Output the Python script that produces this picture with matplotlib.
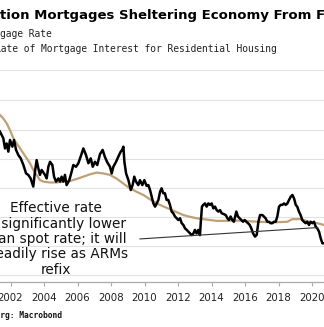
import matplotlib.pyplot as plt

# 30-year mortgage rate (black) and effective rate (tan), % by year
spot_years = [2001.37, 2001.57, 2001.67, 2001.77, 2001.87, 2001.97, 2002.11, 2002.21, 2002.33, 2002.47,
              2002.61, 2002.77, 2002.93, 2003.06, 2003.20, 2003.36, 2003.46, 2003.56, 2003.66, 2003.76,
              2003.86, 2004.06, 2004.16, 2004.26, 2004.36, 2004.50, 2004.60, 2004.72, 2004.86, 2004.96,
              2005.05, 2005.15, 2005.25, 2005.35, 2005.51, 2005.65, 2005.75, 2005.91, 2006.05, 2006.19,
              2006.35, 2006.51, 2006.65, 2006.79, 2006.91, 2007.04, 2007.18, 2007.34, 2007.50, 2007.64,
              2007.78, 2007.94, 2008.04, 2008.14, 2008.30, 2008.44, 2008.58, 2008.66, 2008.74, 2008.80,
              2008.90, 2009.04, 2009.18, 2009.29, 2009.39, 2009.49, 2009.63, 2009.73, 2009.87, 2009.99,
              2010.13, 2010.23, 2010.33, 2010.43, 2010.53, 2010.63, 2010.73, 2010.83, 2010.93, 2011.02,
              2011.12, 2011.22, 2011.32, 2011.42, 2011.52, 2011.62, 2011.72, 2011.82, 2011.92, 2012.02,
              2012.12, 2012.22, 2012.32, 2012.42, 2012.52, 2012.62, 2012.72, 2012.82, 2012.92, 2013.01,
              2013.11, 2013.21, 2013.31, 2013.37, 2013.43, 2013.51, 2013.61, 2013.71, 2013.81, 2013.91,
              2014.01, 2014.11, 2014.21, 2014.31, 2014.41, 2014.51, 2014.61, 2014.71, 2014.85, 2014.95,
              2015.04, 2015.14, 2015.24, 2015.34, 2015.48, 2015.58, 2015.68, 2015.78, 2015.88, 2015.98,
              2016.08, 2016.18, 2016.28, 2016.38, 2016.48, 2016.60, 2016.70, 2016.80, 2016.90, 2017.04,
              2017.13, 2017.23, 2017.33, 2017.43, 2017.53, 2017.63, 2017.73, 2017.83, 2017.93, 2018.03,
              2018.13, 2018.23, 2018.33, 2018.43, 2018.53, 2018.63, 2018.73, 2018.83, 2018.93, 2019.03,
              2019.12, 2019.22, 2019.32, 2019.42, 2019.52, 2019.62, 2019.72, 2019.82, 2019.92, 2020.02,
              2020.12, 2020.22, 2020.32, 2020.42, 2020.52, 2020.62, 2020.72]
spot_rate = [6.93, 6.70, 6.35, 6.52, 6.24, 6.64, 6.41, 6.64, 6.30, 6.12,
             6.01, 5.78, 5.49, 5.44, 5.32, 5.04, 5.55, 5.95, 5.67, 5.44,
             5.61, 5.44, 5.32, 5.72, 5.89, 5.78, 5.38, 5.21, 5.32, 5.21,
             5.38, 5.21, 5.44, 5.09, 5.26, 5.55, 5.78, 5.72, 5.84, 6.07,
             6.35, 6.12, 5.84, 6.01, 5.72, 5.89, 5.78, 6.15, 6.30, 6.05,
             5.87, 5.72, 5.49, 5.72, 5.89, 6.07, 6.24, 6.30, 6.41, 5.89,
             5.49, 5.26, 4.92, 5.09, 5.38, 5.21, 5.09, 5.26, 5.09, 5.26,
             5.06, 5.09, 4.92, 4.69, 4.46, 4.35, 4.46, 4.58, 4.86, 4.98,
             4.81, 4.81, 4.58, 4.58, 4.41, 4.18, 4.12, 4.01, 3.95, 3.89,
             3.95, 3.78, 3.72, 3.60, 3.55, 3.49, 3.43, 3.37, 3.43, 3.55,
             3.43, 3.55, 3.37, 3.89, 4.35, 4.41, 4.46, 4.35, 4.46, 4.41,
             4.46, 4.29, 4.35, 4.23, 4.18, 4.23, 4.12, 4.10, 4.06, 3.95,
             3.89, 4.01, 3.89, 3.83, 4.18, 4.01, 3.95, 3.89, 3.83, 3.89,
             3.83, 3.78, 3.72, 3.60, 3.43, 3.32, 3.38, 3.83, 4.06, 4.06,
             4.01, 3.95, 3.83, 3.83, 3.78, 3.78, 3.83, 3.83, 4.01, 4.35,
             4.41, 4.41, 4.46, 4.41, 4.46, 4.58, 4.69, 4.75, 4.63, 4.41,
             4.35, 4.18, 4.06, 3.89, 3.83, 3.78, 3.83, 3.72, 3.83, 3.78,
             3.83, 3.66, 3.60, 3.49, 3.26, 3.09, 3.09]

eff_years = [2001.37, 2001.57, 2001.77, 2001.97, 2002.17, 2002.37, 2002.57, 2002.77, 2002.97, 2003.16,
             2003.36, 2003.56, 2003.76, 2003.96, 2004.36, 2004.76, 2005.15, 2005.55, 2005.95, 2006.35,
             2006.75, 2007.14, 2007.54, 2007.94, 2008.34, 2008.74, 2009.13, 2009.53, 2009.93, 2010.33,
             2010.73, 2011.12, 2011.52, 2011.92, 2012.32, 2012.72, 2013.11, 2013.51, 2013.91, 2014.31,
             2014.71, 2015.24, 2015.74, 2016.24, 2016.74, 2017.23, 2017.73, 2018.13, 2018.53, 2018.83,
             2019.32, 2019.82, 2020.32, 2020.72]
eff_rate = [7.50, 7.38, 7.21, 6.98, 6.70, 6.52, 6.35, 6.18, 6.01, 5.84,
            5.61, 5.44, 5.26, 5.21, 5.18, 5.18, 5.21, 5.23, 5.30, 5.38,
            5.46, 5.52, 5.49, 5.44, 5.31, 5.14, 4.98, 4.86, 4.75, 4.60,
            4.46, 4.36, 4.26, 4.16, 4.06, 4.00, 3.95, 3.92, 3.89, 3.86,
            3.86, 3.87, 3.87, 3.85, 3.83, 3.82, 3.81, 3.82, 3.83, 3.92,
            3.92, 3.83, 3.78, 3.72]

# line drawn under the annotation: (year, %) at each end
note_years = [2009.73, 2020.32]
note_rate = [3.24, 3.63]

tick_years = list(range(2002, 2021, 2))
grid_levels = [2, 3, 4, 5, 6, 7, 8]

title = "tion Mortgages Sheltering Economy From Fed"
legend_1 = "\u25a0 30-Year Fixed Mortgage Rate"
legend_2 = "\u25a0 Effective Rate of Mortgage Interest for Residential Housing"
note = "Effective rate\nis significantly lower\nthan spot rate; it will\nsteadily rise as ARMs\nrefix"
source = "Source: Bloomberg: Macrobond"

W, H = 324, 327


def fx(px):
    return px / W


def fy(py):
    return 1 - py / H


fig = plt.figure(figsize=(W / 100, H / 100), dpi=100)
fig.patch.set_facecolor('white')
ax = fig.add_axes([0, fy(281.7), 1, fy(85) - fy(281.7)])

for g in grid_levels:
    ax.axhline(g, color='#e2e2e2', linewidth=0.8, zorder=0)

ax.plot(eff_years, eff_rate, color='#bfa077', linewidth=1.6, zorder=2)
ax.plot(spot_years, spot_rate, color='black', linewidth=1.8, zorder=3)
ax.plot(note_years, note_rate, color='#333333', linewidth=0.8, zorder=4)

ax.set_xlim(2001.373, 2001.373 + W / 16.75)
ax.set_ylim(1.77, 8.53)
ax.set_xticks(tick_years)
ax.set_xticklabels([str(y) for y in tick_years], fontsize=7.4, color='#222222')
ax.set_yticks([])
ax.tick_params(axis='x', length=3, width=0.8, color='#aaaaaa', pad=5)
for side in ['left', 'right', 'top']:
    ax.spines[side].set_visible(False)
ax.spines['bottom'].set_color('#aaaaaa')
ax.spines['bottom'].set_linewidth(0.9)

fig.text(fx(0), fy(19.5), title, fontsize=9.5, fontweight='bold', ha='left', va='baseline')
fig.text(fx(52), fy(34), legend_1, fontsize=6.9, family='DejaVu Sans Mono', ha='right', va='center', color='#222222')
fig.text(fx(277), fy(49), legend_2, fontsize=6.9, family='DejaVu Sans Mono', ha='right', va='center', color='#222222')
fig.add_artist(plt.Line2D([0, 1], [fy(70), fy(70)], color='#e4e4e4', linewidth=0.8))

fig.text(fx(55.5), fy(239), note, fontsize=9.8, ha='center', va='center', linespacing=1.12, color='#111111')
fig.text(fx(62), fy(315), source, fontsize=5.7, family='DejaVu Sans Mono', fontweight='bold',
         ha='right', va='center', color='#111111')

fig.savefig('out.png', dpi=100)
